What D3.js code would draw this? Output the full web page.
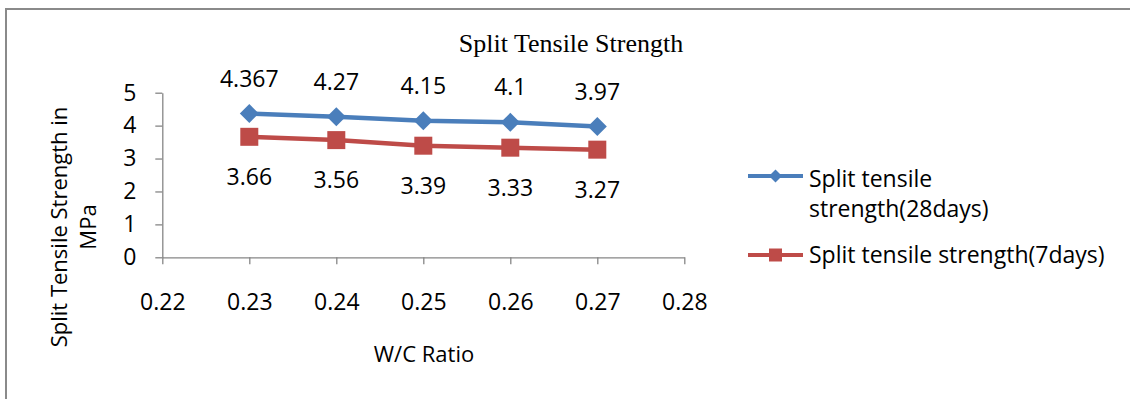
<!DOCTYPE html>
<html>
<head>
<meta charset="utf-8">
<script src="https://cdn.jsdelivr.net/npm/d3@7/dist/d3.min.js"></script>
<style>
	html, body { margin: 0; padding: 0; background: #fff; }
	svg { display: block; }
	.axis path, .axis line { stroke: #868686; stroke-width: 1.3; }
	.axis text { font-family: "Open Sans", sans-serif; font-size: 23px; fill: #000; }
</style>
</head>
<body>
<div id="chart"></div>
<script>
// chart data
const wcRatio = [0.23, 0.24, 0.25, 0.26, 0.27];
const strength28 = [4.367, 4.27, 4.15, 4.1, 3.97];
const strength7 = [3.66, 3.56, 3.39, 3.33, 3.27];
const xTicks = [0.22, 0.23, 0.24, 0.25, 0.26, 0.27, 0.28];
const yTicks = [0, 1, 2, 3, 4, 5];
const seriesNames = ['Split tensile strength(28days)', 'Split tensile strength(7days)'];

const W = 1130, H = 399;
const FONT = '"Open Sans", sans-serif';
const BLUE = '#4a7ebb', RED = '#be4b48';

const svg = d3.select('#chart').append('svg')
	.attr('width', W)
	.attr('height', H);

// outer chart frame (runs off the right and bottom edge)
svg.append('rect')
	.attr('x', 6).attr('y', 9)
	.attr('width', W + 10).attr('height', H + 10)
	.attr('fill', '#fff')
	.attr('stroke', '#8a8a8a')
	.attr('stroke-width', 2);

const x = d3.scaleLinear().domain([0.22, 0.28]).range([162.3, 684.3]);
const y = d3.scaleLinear().domain([0, 5]).range([257.3, 92.7]);

// axes
const xAxis = svg.append('g')
	.attr('class', 'axis')
	.attr('transform', `translate(0,${y(0)})`)
	.call(d3.axisBottom(x).tickValues(xTicks).tickFormat(d3.format('.2f')).tickSize(7).tickSizeOuter(0));
xAxis.selectAll('text').attr('y', 53).attr('dy', null);

svg.append('g')
	.attr('class', 'axis')
	.attr('transform', `translate(${x(0.22)},0)`)
	.call(d3.axisLeft(y).tickValues(yTicks).tickFormat(d3.format('d')).tickSize(7).tickSizeOuter(0).tickPadding(19));

// title
svg.append('text')
	.attr('x', 571).attr('y', 52)
	.attr('text-anchor', 'middle')
	.style('font-family', '"Liberation Serif", "Times New Roman", serif')
	.style('font-size', '26px')
	.text('Split Tensile Strength');

// axis titles
svg.append('text')
	.attr('x', 424).attr('y', 362)
	.attr('text-anchor', 'middle')
	.style('font-family', FONT)
	.style('font-size', '22px')
	.text('W/C Ratio');

const yTitle = svg.append('text')
	.attr('transform', 'translate(67,227) rotate(-90)')
	.attr('text-anchor', 'middle')
	.style('font-family', FONT)
	.style('font-size', '22px');
yTitle.append('tspan').attr('x', 0).attr('y', 0).text('Split Tensile Strength in');
yTitle.append('tspan').attr('x', 0).attr('y', 29).text('MPa');

const line = d3.line()
	.x(d => x(d[0]))
	.y(d => y(d[1]));

function drawSeries(values, color, marker, labelOffset) {
	const pts = wcRatio.map((r, i) => [r, values[i]]);
	svg.append('path')
		.datum(pts)
		.attr('d', line)
		.attr('fill', 'none')
		.attr('stroke', color)
		.attr('stroke-width', 4.5)
		.attr('stroke-linejoin', 'round');
	svg.append('g').selectAll('path')
		.data(pts)
		.join('path')
		.attr('d', marker)
		.attr('transform', d => `translate(${x(d[0])},${y(d[1])})`)
		.attr('fill', color);
	svg.append('g').selectAll('text')
		.data(pts)
		.join('text')
		.attr('x', d => x(d[0]))
		.attr('y', d => y(d[1]) + labelOffset)
		.attr('text-anchor', 'middle')
		.style('font-family', FONT)
		.style('font-size', '23px')
		.text(d => String(d[1]));
}

const diamond = s => `M0,${-s}L${s},0L0,${s}L${-s},0Z`;
const square = s => `M${-s},${-s}H${s}V${s}H${-s}Z`;

drawSeries(strength28, BLUE, diamond(9.5), -27);
drawSeries(strength7, RED, square(9), 48);

// legend
const legend = svg.append('g');
const legendRows = [
	{ y: 176, color: BLUE, marker: diamond(6.5), lines: ['Split tensile', 'strength(28days)'], base: 187 },
	{ y: 255, color: RED, marker: square(6.5), lines: [seriesNames[1]], base: 263 }
];
legendRows.forEach(row => {
	legend.append('line')
		.attr('x1', 748).attr('x2', 803)
		.attr('y1', row.y).attr('y2', row.y)
		.attr('stroke', row.color)
		.attr('stroke-width', 4);
	legend.append('path')
		.attr('d', row.marker)
		.attr('transform', `translate(775.5,${row.y})`)
		.attr('fill', row.color);
	row.lines.forEach((t, i) => {
		legend.append('text')
			.attr('x', 809)
			.attr('y', row.base + i * 30)
			.style('font-family', FONT)
			.style('font-size', '23px')
			.text(t);
	});
});
</script>
</body>
</html>
